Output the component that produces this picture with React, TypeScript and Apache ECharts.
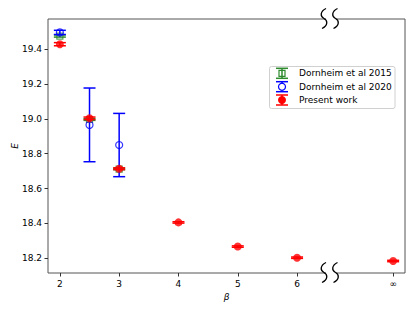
import React, { useEffect, useRef } from "react";
import * as echarts from "echarts";

const betaTicks = [2, 3, 4, 5, 6, 7.62];
const betaTickLabels = ["2", "3", "4", "5", "6", "∞"];
const eTicks = [18.2, 18.4, 18.6, 18.8, 19.0, 19.2, 19.4];

const beta2015 = [2, 2.5, 3];
const e2015 = [19.477, 18.997, 18.712];
const err2015 = [0.006, 0.005, 0.004];

const beta2020 = [2, 2.5, 3];
const e2020 = [19.498, 18.966, 18.85];
const err2020 = [0.012, 0.212, 0.182];

const betaPresent = [2, 2.5, 3, 4, 5, 6, 7.62];
const ePresent = [19.43, 19.004, 18.714, 18.405, 18.266, 18.202, 18.183];
const errPresent = [0.009, 0.007, 0.005, 0.004, 0.004, 0.004, 0.004];

const legendNames = ["Dornheim et al 2015", "Dornheim et al 2020", "Present work"];

const GREEN = "#2e8b2e";
const BLUE = "#0000ff";
const RED = "#ff0000";
const FONT = "DejaVu Sans";

const BREAK_PATH =
  "M2 0 C-4 3 -4 8 0 10 C4 12 4 17 -2 20 M13.5 0 C7.5 3 7.5 8 11.5 10 C15.5 12 15.5 17 9.5 20";

function errSeries(name: string, xs: number[], ys: number[], es: number[], color: string, z: number) {
  return {
    type: "custom",
    name,
    z,
    silent: true,
    encode: { x: 0, y: 1 },
    data: xs.map((x, i) => [x, ys[i], es[i]]),
    renderItem: (_params: any, api: any) => {
      const x = api.value(0);
      const y = api.value(1);
      const e = api.value(2);
      const top = api.coord([x, y + e]);
      const bot = api.coord([x, y - e]);
      const cx = top[0];
      const w = 6;
      const st = { stroke: color, lineWidth: 1.5 };
      return {
        type: "group",
        children: [
          { type: "line", shape: { x1: cx, y1: top[1], x2: cx, y2: bot[1] }, style: st },
          { type: "line", shape: { x1: cx - w, y1: top[1], x2: cx + w, y2: top[1] }, style: st },
          { type: "line", shape: { x1: cx - w, y1: bot[1], x2: cx + w, y2: bot[1] }, style: st },
        ],
      };
    },
  };
}

function markerSeries(name: string, xs: number[], ys: number[], symbol: string, size: number, itemStyle: any, z: number) {
  return {
    type: "scatter",
    name,
    z,
    silent: true,
    symbol,
    symbolSize: size,
    itemStyle,
    data: xs.map((x, i) => [x, ys[i]]),
  };
}

function legendIcon(cx: number, cy: number, color: string, marker: any) {
  const st = { stroke: color, lineWidth: 1.5 };
  return [
    { type: "line", shape: { x1: cx, y1: cy - 5, x2: cx, y2: cy + 5 }, style: st, z: 101 },
    { type: "line", shape: { x1: cx - 6, y1: cy - 5, x2: cx + 6, y2: cy - 5 }, style: st, z: 101 },
    { type: "line", shape: { x1: cx - 6, y1: cy + 5, x2: cx + 6, y2: cy + 5 }, style: st, z: 101 },
    { ...marker, z: 102 },
  ];
}

export default function App() {
  const ref = useRef<HTMLDivElement>(null);
  useEffect(() => {
    if (!ref.current) return;
    try {
      echarts.graphic.registerShape("brk", echarts.graphic.extendPath(BREAK_PATH, {}) as any);
    } catch (e) {}
    const chart = echarts.init(ref.current, null, { renderer: "svg" });
    const lx = 282;
    const ly = [73.3, 86.7, 100];
    const option: any = {
      animation: false,
      backgroundColor: "#ffffff",
      textStyle: { fontFamily: FONT },
      grid: {
        left: 48,
        top: 19,
        width: 357,
        height: 254,
        containLabel: false,
        outerBoundsMode: "none",
        show: true,
        borderColor: "#555",
        borderWidth: 1,
        backgroundColor: "transparent",
      },
      xAxis: {
        type: "value",
        min: 1.8,
        max: 7.82,
        name: "β",
        nameLocation: "middle",
        nameGap: 19,
        nameMoveOverlap: false,
        nameTextStyle: { fontFamily: FONT, fontSize: 9, fontStyle: "italic", color: "#000" },
        axisLine: { show: false },
        splitLine: { show: false },
        axisTick: { show: true, length: 3.5, customValues: betaTicks, lineStyle: { color: "#333", width: 1 } },
        axisLabel: {
          customValues: betaTicks,
          margin: 6,
          fontSize: 9,
          fontFamily: FONT,
          color: "#000",
          formatter: (v: number) => {
            const i = betaTicks.findIndex((t) => Math.abs(t - v) < 1e-6);
            return i >= 0 ? betaTickLabels[i] : "";
          },
        },
      },
      yAxis: {
        type: "value",
        min: 18.114,
        max: 19.575,
        name: "E",
        nameLocation: "middle",
        nameGap: 29,
        nameRotate: 90,
        nameMoveOverlap: false,
        nameTextStyle: { fontFamily: FONT, fontSize: 9, fontStyle: "italic", color: "#000" },
        axisLine: { show: false },
        splitLine: { show: false },
        axisTick: { show: true, length: 3.5, customValues: eTicks, lineStyle: { color: "#333", width: 1 } },
        axisLabel: {
          customValues: eTicks,
          margin: 6,
          fontSize: 9,
          fontFamily: FONT,
          color: "#000",
          formatter: (v: number) => v.toFixed(1),
        },
      },
      series: [
        errSeries(legendNames[0], beta2015, e2015, err2015, GREEN, 2),
        markerSeries(legendNames[0], beta2015, e2015, "rect", 6, { color: "rgba(0,0,0,0)", borderColor: GREEN, borderWidth: 1.2 }, 3),
        errSeries(legendNames[1], beta2020, e2020, err2020, BLUE, 4),
        markerSeries(legendNames[1], beta2020, e2020, "circle", 7, { color: "rgba(0,0,0,0)", borderColor: BLUE, borderWidth: 1.2 }, 5),
        errSeries(legendNames[2], betaPresent, ePresent, errPresent, RED, 6),
        markerSeries(legendNames[2], betaPresent, ePresent, "circle", 8, { color: RED }, 7),
      ],
      graphic: [
        { type: "rect", shape: { x: 326, y: 16, width: 10, height: 6 }, style: { fill: "#fff" }, z: 100 },
        { type: "rect", shape: { x: 326, y: 270, width: 10, height: 6 }, style: { fill: "#fff" }, z: 100 },
        { type: "brk", x: 324, y: 8.5, style: { stroke: "#000", fill: "none", lineWidth: 1.3 }, z: 101 },
        { type: "brk", x: 324, y: 262.5, style: { stroke: "#000", fill: "none", lineWidth: 1.3 }, z: 101 },
        {
          type: "rect",
          shape: { x: 269.5, y: 66.5, width: 125.5, height: 42, r: 2 },
          style: { fill: "rgba(255,255,255,0.8)", stroke: "#d0d0d0", lineWidth: 1 },
          z: 100,
        },
        ...legendIcon(lx, ly[0], GREEN, {
          type: "rect",
          shape: { x: lx - 3, y: ly[0] - 3, width: 6, height: 6 },
          style: { fill: "none", stroke: GREEN, lineWidth: 1.2 },
        }),
        ...legendIcon(lx, ly[1], BLUE, {
          type: "circle",
          shape: { cx: lx, cy: ly[1], r: 3.5 },
          style: { fill: "#fff", stroke: BLUE, lineWidth: 1.2 },
        }),
        ...legendIcon(lx, ly[2], RED, {
          type: "circle",
          shape: { cx: lx, cy: ly[2], r: 4 },
          style: { fill: RED },
        }),
        ...legendNames.map((n, i) => ({
          type: "text",
          x: 299,
          y: ly[i],
          style: { text: n, fontFamily: FONT, fontSize: 9, fill: "#000", verticalAlign: "middle", align: "left" },
          z: 102,
        })),
      ],
    };
    chart.setOption(option);
    return () => chart.dispose();
  }, []);
  return <div ref={ref} style={{ position: "absolute", left: 0, top: 0, width: 415, height: 311 }} />;
}
